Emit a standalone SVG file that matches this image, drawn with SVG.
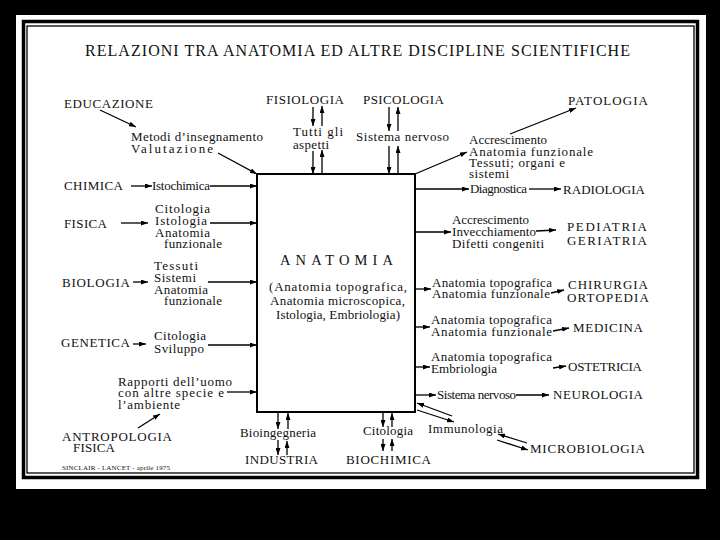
<svg xmlns="http://www.w3.org/2000/svg" width="720" height="540" viewBox="0 0 720 540">
<defs>
<marker id="ah" markerWidth="7" markerHeight="5" refX="7" refY="2.5" orient="auto" markerUnits="userSpaceOnUse"><path d="M0,0 L7,2.5 L0,5 z" fill="#000"/></marker>
<style>
text{font-family:"Liberation Serif","Times New Roman",serif;fill:#111;}
.cap{font-size:13px;}
.sm{font-size:13px;}
.tit{font-size:16px;}
.c{stroke:#000;stroke-width:1.3;fill:none;marker-end:url(#ah);}
</style>
</defs>
<rect x="0" y="0" width="720" height="540" fill="#000"/>
<rect x="16" y="15" width="690" height="474" fill="#fff"/>
<rect x="23.5" y="21.5" width="674" height="456" fill="none" stroke="#000" stroke-width="3.5"/>
<rect x="27" y="26" width="667" height="447" fill="none" stroke="#000" stroke-width="1.3"/>

<g id="title"><text class="tit" x="85" y="56" textLength="545" lengthAdjust="spacing">RELAZIONI TRA ANATOMIA ED ALTRE DISCIPLINE SCIENTIFICHE</text></g>

<g id="anatomia">
<rect x="257" y="174" width="158" height="238" fill="none" stroke="#000" stroke-width="2"/>
<text x="280" y="265" font-size="14.5" textLength="113" lengthAdjust="spacing">ANATOMIA</text>
<text class="sm" x="269" y="291" textLength="138" lengthAdjust="spacing">(Anatomia topografica,</text>
<text class="sm" x="270" y="305" textLength="135" lengthAdjust="spacing">Anatomia microscopica,</text>
<text class="sm" x="276" y="319" textLength="124" lengthAdjust="spacing">Istologia, Embriologia)</text>
</g>

<g id="educazione">
<text class="cap" x="64" y="108" textLength="89" lengthAdjust="spacing">EDUCAZIONE</text>
<text class="sm" x="131" y="141" textLength="132" lengthAdjust="spacing">Metodi d’insegnamento</text>
<text class="sm" x="131" y="153" textLength="82" lengthAdjust="spacing">Valutazione</text>
</g>
<g id="fisiologia">
<text class="cap" x="266" y="104" textLength="78" lengthAdjust="spacing">FISIOLOGIA</text>
<text class="sm" x="293" y="136" textLength="50" lengthAdjust="spacing">Tutti gli</text>
<text class="sm" x="293" y="149" textLength="36" lengthAdjust="spacing">aspetti</text>
</g>
<g id="psicologia">
<text class="cap" x="363" y="104" textLength="81" lengthAdjust="spacing">PSICOLOGIA</text>
<text class="sm" x="356" y="141" textLength="93" lengthAdjust="spacing">Sistema nervoso</text>
</g>
<g id="patologia">
<text class="cap" x="568" y="105" textLength="80" lengthAdjust="spacing">PATOLOGIA</text>
<text class="sm" x="469" y="144" textLength="78" lengthAdjust="spacing">Accrescimento</text>
<text class="sm" x="469" y="156" textLength="124" lengthAdjust="spacing">Anatomia funzionale</text>
<text class="sm" x="469" y="167" textLength="96" lengthAdjust="spacing">Tessuti; organi e</text>
<text class="sm" x="469" y="178" textLength="40" lengthAdjust="spacing">sistemi</text>
</g>
<g id="radiologia">
<text class="sm" x="470" y="193" textLength="57" lengthAdjust="spacing">Diagnostica</text>
<text class="cap" x="563" y="194" textLength="82" lengthAdjust="spacing">RADIOLOGIA</text>
</g>
<g id="pediatria">
<text class="sm" x="452" y="224" textLength="77" lengthAdjust="spacing">Accrescimento</text>
<text class="sm" x="452" y="236" textLength="84" lengthAdjust="spacing">Invecchiamento</text>
<text class="sm" x="452" y="248" textLength="92" lengthAdjust="spacing">Difetti congeniti</text>
<text class="cap" x="567" y="231" textLength="80" lengthAdjust="spacing">PEDIATRIA</text>
<text class="cap" x="567" y="245" textLength="80" lengthAdjust="spacing">GERIATRIA</text>
</g>
<g id="chirurgia">
<text class="sm" x="432" y="287" textLength="120" lengthAdjust="spacing">Anatomia topografica</text>
<text class="sm" x="432" y="298" textLength="118" lengthAdjust="spacing">Anatomia funzionale</text>
<text class="cap" x="568" y="289" textLength="80" lengthAdjust="spacing">CHIRURGIA</text>
<text class="cap" x="567" y="302" textLength="82" lengthAdjust="spacing">ORTOPEDIA</text>
</g>
<g id="medicina">
<text class="sm" x="431" y="324" textLength="121" lengthAdjust="spacing">Anatomia topografica</text>
<text class="sm" x="431" y="336" textLength="121" lengthAdjust="spacing">Anatomia funzionale</text>
<text class="cap" x="573" y="332" textLength="70" lengthAdjust="spacing">MEDICINA</text>
</g>
<g id="ostetricia">
<text class="sm" x="431" y="361" textLength="121" lengthAdjust="spacing">Anatomia topografica</text>
<text class="sm" x="431" y="373" textLength="66" lengthAdjust="spacing">Embriologia</text>
<text class="cap" x="568" y="371" textLength="74" lengthAdjust="spacing">OSTETRICIA</text>
</g>
<g id="neurologia">
<text class="sm" x="437" y="399" textLength="79" lengthAdjust="spacing">Sistema nervoso</text>
<text class="cap" x="553" y="399" textLength="90" lengthAdjust="spacing">NEUROLOGIA</text>
</g>
<g id="microbiologia">
<text class="sm" x="428" y="433" textLength="75" lengthAdjust="spacing">Immunologia</text>
<text class="cap" x="530" y="453" textLength="115" lengthAdjust="spacing">MICROBIOLOGIA</text>
</g>
<g id="biochimica">
<text class="sm" x="363" y="435" textLength="50" lengthAdjust="spacing">Citologia</text>
<text class="cap" x="346" y="464" textLength="85" lengthAdjust="spacing">BIOCHIMICA</text>
</g>
<g id="industria">
<text class="sm" x="240" y="437" textLength="76" lengthAdjust="spacing">Bioingegneria</text>
<text class="cap" x="245" y="464" textLength="73" lengthAdjust="spacing">INDUSTRIA</text>
</g>
<g id="antropologia">
<text class="sm" x="118" y="386" textLength="114" lengthAdjust="spacing">Rapporti dell’uomo</text>
<text class="sm" x="118" y="397" textLength="106" lengthAdjust="spacing">con altre specie e</text>
<text class="sm" x="118" y="409" textLength="62" lengthAdjust="spacing">l’ambiente</text>
<text class="cap" x="62" y="441" textLength="110" lengthAdjust="spacing">ANTROPOLOGIA</text>
<text class="cap" x="73" y="452" textLength="42" lengthAdjust="spacing">FISICA</text>
</g>
<g id="genetica">
<text class="cap" x="61" y="347" textLength="69" lengthAdjust="spacing">GENETICA</text>
<text class="sm" x="154" y="340" textLength="52" lengthAdjust="spacing">Citologia</text>
<text class="sm" x="154" y="353" textLength="50" lengthAdjust="spacing">Sviluppo</text>
</g>
<g id="biologia">
<text class="cap" x="62" y="287" textLength="68" lengthAdjust="spacing">BIOLOGIA</text>
<text class="sm" x="154" y="270" textLength="44" lengthAdjust="spacing">Tessuti</text>
<text class="sm" x="154" y="282" textLength="42" lengthAdjust="spacing">Sistemi</text>
<text class="sm" x="154" y="294" textLength="54" lengthAdjust="spacing">Anatomia</text>
<text class="sm" x="164" y="305" textLength="58" lengthAdjust="spacing">funzionale</text>
</g>
<g id="fisica">
<text class="cap" x="64" y="228" textLength="43" lengthAdjust="spacing">FISICA</text>
<text class="sm" x="155" y="213" textLength="55" lengthAdjust="spacing">Citologia</text>
<text class="sm" x="155" y="225" textLength="52" lengthAdjust="spacing">Istologia</text>
<text class="sm" x="155" y="237" textLength="55" lengthAdjust="spacing">Anatomia</text>
<text class="sm" x="164" y="248" textLength="58" lengthAdjust="spacing">funzionale</text>
</g>
<g id="chimica">
<text class="cap" x="64" y="190" textLength="59" lengthAdjust="spacing">CHIMICA</text>
<text class="sm" x="152" y="190" textLength="58" lengthAdjust="spacing">Istochimica</text>
</g>
<g id="source"><text x="62" y="470" font-size="7" textLength="108" lengthAdjust="spacing">SINCLAIR - LANCET - aprile 1975</text></g>

<g id="connectors">
<path class="c" d="M100,110 L136,127"/>
<path class="c" d="M218,153 L257,174"/>
<path class="c" d="M131,186 L152,186"/>
<path class="c" d="M210,186 L257,186"/>
<path class="c" d="M121,223 L148,223"/>
<path class="c" d="M210,223 L257,223"/>
<path class="c" d="M133,282 L148,282"/>
<path class="c" d="M208,282 L257,282"/>
<path class="c" d="M133,344 L146,344"/>
<path class="c" d="M208,345 L257,345"/>
<path class="c" d="M227,392 L257,392"/>
<path class="c" d="M138,428 L160,414"/>
<path class="c" d="M313,107 L313,126"/>
<path class="c" d="M322,126 L322,106"/>
<path class="c" d="M313,151 L313,174"/>
<path class="c" d="M322,174 L322,150"/>
<path class="c" d="M389,107 L389,131"/>
<path class="c" d="M398,131 L398,107"/>
<path class="c" d="M389,146 L389,174"/>
<path class="c" d="M398,174 L398,146"/>
<path class="c" d="M415,174 L467,152"/>
<path class="c" d="M510,134 L576,108"/>
<path class="c" d="M415,189 L469,189"/>
<path class="c" d="M529,189 L561,189"/>
<path class="c" d="M415,232 L451,232"/>
<path class="c" d="M536,231 L556,230"/>
<path class="c" d="M415,289 L431,289"/>
<path class="c" d="M551,293 L564,290"/>
<path class="c" d="M415,327 L430,327"/>
<path class="c" d="M553,331 L569,328"/>
<path class="c" d="M415,367 L430,367"/>
<path class="c" d="M553,368 L566,366"/>
<path class="c" d="M415,395 L436,395"/>
<path class="c" d="M516,395 L549,395"/>
<path class="c" d="M452,416 L417,403"/>
<path class="c" d="M417,410 L454,422"/>
<path class="c" d="M527,443 L498,434"/>
<path class="c" d="M497,440 L528,450"/>
<path class="c" d="M278,413 L278,429"/>
<path class="c" d="M288,429 L288,413"/>
<path class="c" d="M278,440 L278,455"/>
<path class="c" d="M287,455 L287,441"/>
<path class="c" d="M383,413 L383,427"/>
<path class="c" d="M392,427 L392,413"/>
<path class="c" d="M383,439 L383,451"/>
<path class="c" d="M392,451 L392,439"/>
</g>
</svg>
